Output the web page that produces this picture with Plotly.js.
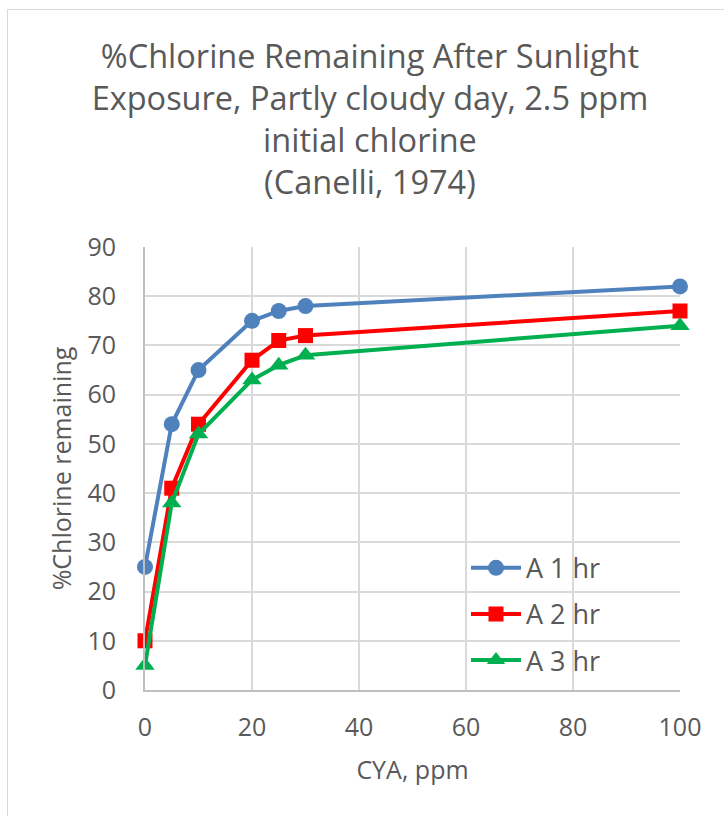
<!DOCTYPE html>
<html><head><meta charset="utf-8">
<script src="https://cdn.plot.ly/plotly-3.0.1.min.js"></script>
<style>
html,body{margin:0;padding:0;background:#fff;overflow:hidden;}
#frame{position:absolute;left:7px;top:9px;width:740px;height:840px;border:1px solid #d9d9d9;}
#chart{position:absolute;left:0;top:0;width:724px;height:816px;}
</style></head>
<body>
<div id="frame"></div>
<div id="chart"></div>
<script>
const cya = [0, 5, 10, 20, 25, 30, 100];
const a1hr = [25, 54, 65, 75, 77, 78, 82];
const a2hr = [10, 41, 54, 67, 71, 72, 77];
const a3hr = [5, 38, 52, 63, 66, 68, 74];
const seriesNames = ['A 1 hr', 'A 2 hr', 'A 3 hr'];
const titleText = '%Chlorine Remaining After Sunlight<br>Exposure, Partly cloudy day, 2.5 ppm<br>initial chlorine<br>(Canelli, 1974)';

const font = '"Open Sans", "Noto Sans", sans-serif';
const traces = [
  {x: cya, y: a1hr, name: seriesNames[0], legendgroup: 'g1', mode: 'lines+markers', cliponaxis: false,
   line: {color: '#4f81bd', width: 4}, marker: {symbol: 'circle', size: 16, color: '#4f81bd'}},
  {x: cya, y: a2hr, name: seriesNames[1], legendgroup: 'g2', mode: 'lines+markers', cliponaxis: false,
   line: {color: '#ff0000', width: 4}, marker: {symbol: 'square', size: 15, color: '#ff0000'}},
  {x: cya, y: a3hr, name: seriesNames[2], legendgroup: 'g3', mode: 'lines+markers', cliponaxis: false,
   line: {color: '#00b050', width: 4}, marker: {symbol: 'triangle-up', size: 17, color: '#00b050'}}
];
const layout = {
  width: 724, height: 816,
  margin: {l: 145, r: 44, t: 247, b: 126},
  paper_bgcolor: 'rgba(0,0,0,0)', plot_bgcolor: '#fff',
  font: {family: font, color: '#595959'},
  title: {text: titleText, x: 0.511, xref: 'container', xanchor: 'center', y: 0.917, yanchor: 'top', yref: 'container',
          font: {family: font, size: 32.5, color: '#595959'}},
  xaxis: {range: [0, 100], dtick: 20, tick0: 0, showgrid: true, gridcolor: '#d9d9d9', gridwidth: 2,
          showline: true, linecolor: '#bfbfbf', linewidth: 2, zeroline: false, ticks: '',
          tickfont: {size: 25, color: '#595959'}, ticklabelstandoff: 14,
          title: {text: 'CYA, ppm', font: {size: 25, color: '#595959'}, standoff: 19}},
  yaxis: {range: [0, 90], dtick: 10, tick0: 0, showgrid: true, gridcolor: '#d9d9d9', gridwidth: 2,
          showline: true, linecolor: '#bfbfbf', linewidth: 2, zeroline: false, ticks: '',
          tickfont: {size: 25, color: '#595959'}, ticklabelstandoff: 22,
          title: {text: '%Chlorine remaining', font: {size: 25, color: '#595959'}, standoff: 9}},
  legend: {x: 0.6, y: 0.33, xanchor: 'left', yanchor: 'top', bgcolor: 'rgba(255,255,255,0)',
           font: {size: 27, color: '#595959'}, tracegroupgap: 8, itemwidth: 50},
  showlegend: true
};
Plotly.newPlot('chart', traces, layout, {displayModeBar: false, staticPlot: true});
</script>
</body></html>
